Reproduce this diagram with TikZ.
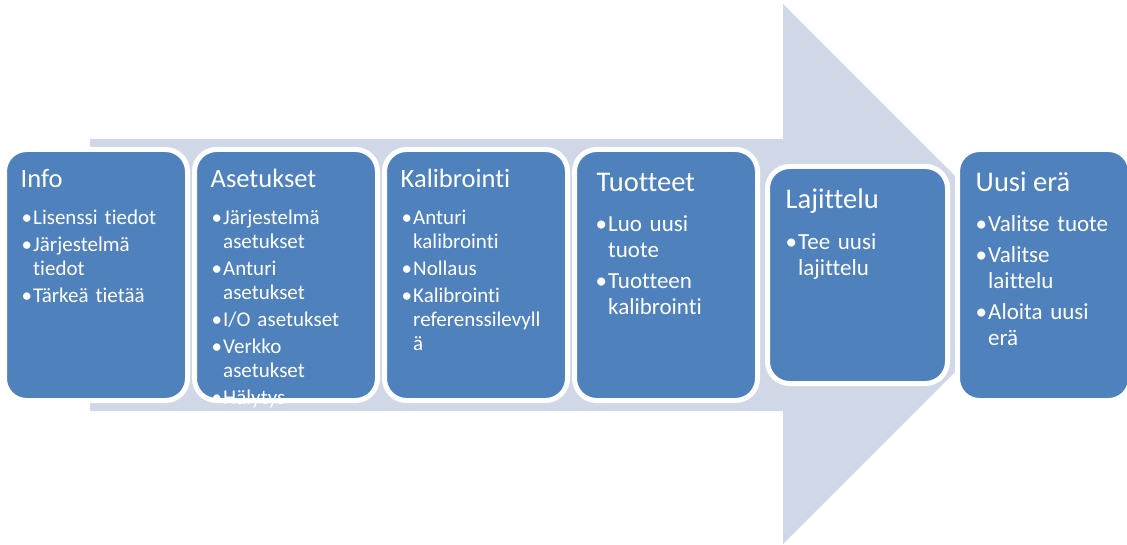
\documentclass[tikz,border=0pt]{standalone}
\usepackage{fontspec}
\setmainfont{Carlito}[Ligatures={NoCommon,NoRare,NoDiscretionary}]
\usepackage{tikz}
\usetikzlibrary{positioning}

\definecolor{sininen}{HTML}{4F81BD}
\definecolor{vaalea}{HTML}{D0D8E8}

\newlength{\sisennys}
\newcommand{\kohta}[1]{\hangindent=\sisennys\hangafter=1\noindent\makebox[\sisennys][l]{\textbullet}#1\par}

\begin{document}
\begin{tikzpicture}[x=1pt, y=1pt, node distance=7pt,
  kortti/.style={draw=white, line width=5pt, fill=sininen, rounded corners=22pt, outer sep=0pt, inner sep=0pt, minimum width=183pt, minimum height=251pt},
  otsikko/.style={text=white, anchor=base west, inner sep=0pt, font=\fontsize{26.5}{31}\selectfont},
  lista/.style={text=white, anchor=base west, inner sep=0pt, text width=165pt, font=\fontsize{21}{24}\selectfont, execute at begin node={\raggedright\setlength{\parskip}{3pt}\setlength{\sisennys}{11.5pt}}},
  isootsikko/.style={otsikko, font=\fontsize{28.5}{33}\selectfont},
  isolista/.style={lista, font=\fontsize{23}{26}\selectfont, execute at begin node={\raggedright\setlength{\parskip}{5pt}\setlength{\sisennys}{12.5pt}}}]
\useasboundingbox (0,0) rectangle (1127,544);
% taustanuoli
\fill[vaalea] (90,405) -- (783,405) -- (783,540) -- (955,368) -- (955,172) -- (783,0) -- (783,133) -- (90,133) -- cycle;
% laatikot
\node[kortti] (info) at (96,269) {};
\node[kortti, right=of info] (aset) {};
\node[kortti, right=of aset] (kalib) {};
\node[kortti, right=of kalib] (tuot) {};
\node[kortti, right=10pt of tuot, minimum width=180pt, minimum height=217pt] (laji) {};
\node[kortti, right=10pt of laji, minimum width=173pt] (era) {};
% tekstit
\node[otsikko] (info-ots) at ([shift={(16,-38.5)}]info.north west) {Info};
\node[lista] (info-lista) at ([shift={(17,-75.5)}]info.north west) {\kohta{Lisenssi tiedot}\kohta{Järjestelmä\newline tiedot}\kohta{Tärkeä tietää}};
\node[otsikko] (aset-ots) at ([shift={(16,-38.5)}]aset.north west) {Asetukset};
\begin{scope}
\clip ([xshift=-5pt]aset.north west) rectangle ([yshift=-8pt]aset.south east);
\node[lista] (aset-lista) at ([shift={(17,-75.5)}]aset.north west) {\kohta{Järjestelmä\newline asetukset}\kohta{Anturi\newline asetukset}\kohta{I/O asetukset}\kohta{Verkko\newline asetukset}\kohta{Hälytys}};
\end{scope}
\node[otsikko] (kalib-ots) at ([shift={(16,-38.5)}]kalib.north west) {Kalibrointi};
\node[lista] (kalib-lista) at ([shift={(17,-75.5)}]kalib.north west) {\kohta{Anturi\newline kalibrointi}\kohta{Nollaus}\kohta{Kalibrointi\newline referenssilevyll\newline ä}};
\node[isootsikko] (tuot-ots) at ([shift={(22,-42.5)}]tuot.north west) {Tuotteet};
\node[isolista] (tuot-lista) at ([shift={(21,-82.5)}]tuot.north west) {\kohta{Luo uusi\newline tuote}\kohta{Tuotteen\newline kalibrointi}};
\node[isootsikko] (laji-ots) at ([shift={(18,-42.5)}]laji.north west) {Lajittelu};
\node[isolista] (laji-lista) at ([shift={(18,-83)}]laji.north west) {\kohta{Tee uusi\newline lajittelu}};
\node[isootsikko] (era-ots) at ([shift={(18,-42.5)}]era.north west) {Uusi erä};
\node[isolista] (era-lista) at ([shift={(18,-82.5)}]era.north west) {\kohta{Valitse tuote}\kohta{Valitse\newline laittelu}\kohta{Aloita uusi\newline erä}};
\end{tikzpicture}
\end{document}
